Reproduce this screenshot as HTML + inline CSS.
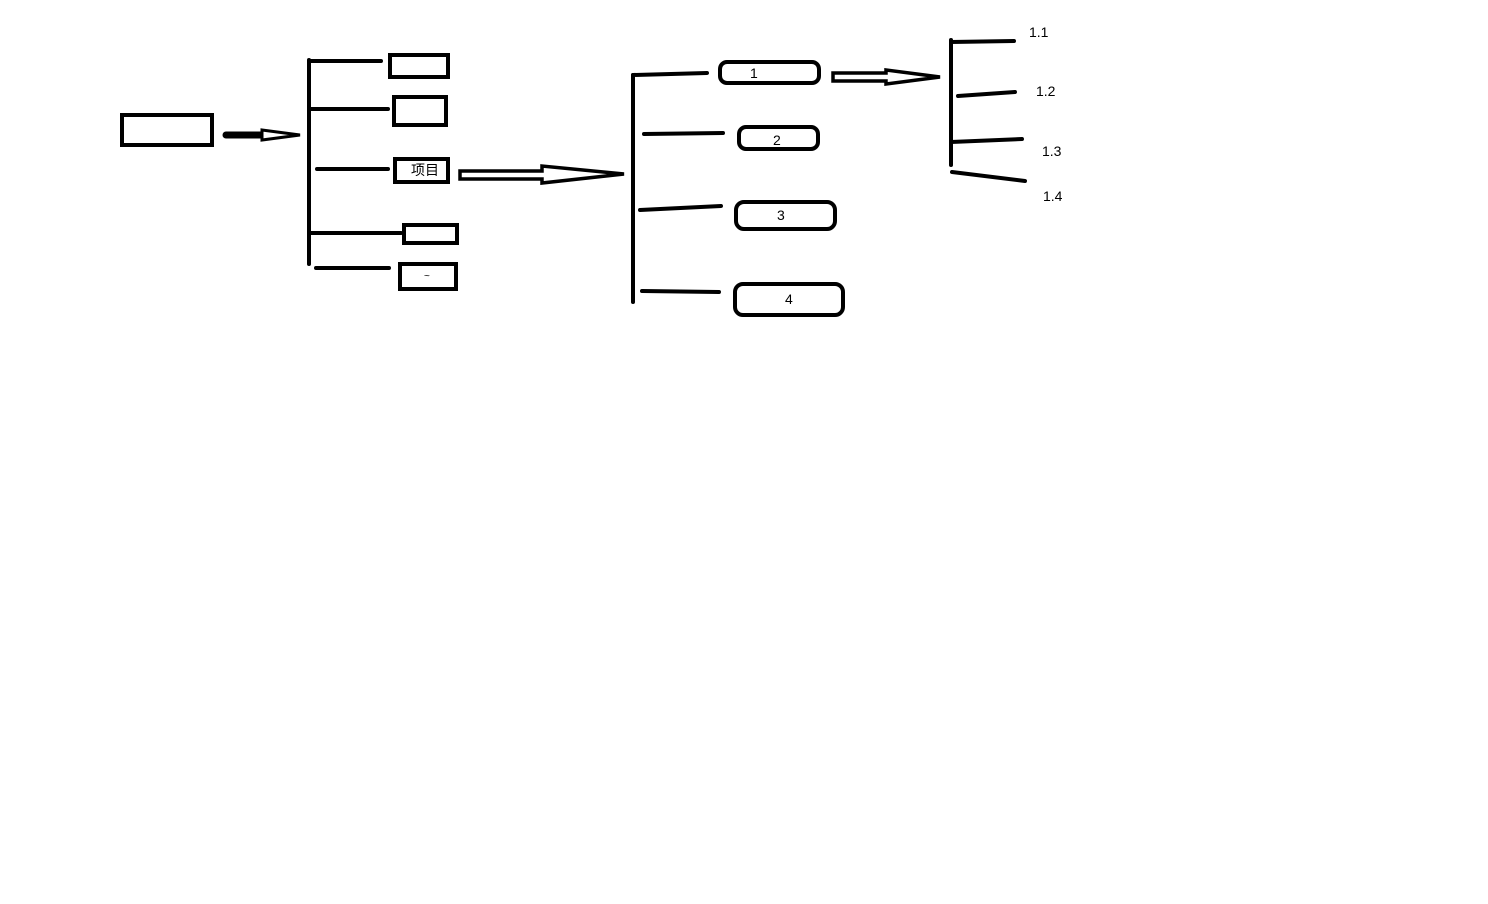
<!DOCTYPE html>
<html><head><meta charset="utf-8"><style>
html,body{margin:0;padding:0;background:#fff;width:1488px;height:904px;overflow:hidden}
svg text{font-family:"Liberation Sans","Noto Sans CJK SC",sans-serif;fill:#000}
</style></head><body>
<svg width="1488" height="904" viewBox="0 0 1488 904" xmlns="http://www.w3.org/2000/svg">
<g fill="none" stroke="#000" stroke-linecap="round" stroke-width="4">
<!-- left box -->
<rect x="122" y="115" width="90" height="30"/>
<!-- arrow 1 -->
<line x1="226" y1="135" x2="262" y2="135" stroke-width="7"/>
<path d="M262 130 L300 135 L262 140 Z" stroke-width="3" fill="#fff"/>
<!-- tree 1 -->
<line x1="309" y1="60" x2="309" y2="264"/>
<line x1="309" y1="61" x2="381" y2="61"/>
<line x1="311" y1="109" x2="388" y2="109"/>
<line x1="317" y1="169" x2="388" y2="169"/>
<line x1="311" y1="233" x2="401" y2="233"/>
<line x1="316" y1="268" x2="389" y2="268"/>
<rect x="390" y="55" width="58" height="22"/>
<rect x="394" y="97" width="52" height="28"/>
<rect x="395" y="159" width="53" height="23"/>
<rect x="404" y="225" width="53" height="18"/>
<rect x="400" y="264" width="56" height="25"/>
<!-- arrow 2 -->
<path d="M460 171 L542 171 L542 166 L624 174 L542 183 L542 179 L460 179 Z" stroke-width="3.5" fill="#fff"/>
<!-- tree 2 -->
<line x1="633" y1="75" x2="633" y2="190"/>
<line x1="633" y1="190" x2="633" y2="302"/>
<line x1="633" y1="75" x2="707" y2="73"/>
<line x1="644" y1="134" x2="723" y2="133"/>
<line x1="640" y1="210" x2="721" y2="206"/>
<line x1="642" y1="291" x2="719" y2="292"/>
<rect x="720" y="62" width="99" height="21" rx="7"/>
<rect x="739" y="127" width="79" height="22" rx="7"/>
<rect x="736" y="202" width="99" height="27" rx="8"/>
<rect x="735" y="284" width="108" height="31" rx="8"/>
<!-- arrow 3 -->
<path d="M833 73 L886 73 L886 70 L940 77 L886 84 L886 81 L833 81 Z" stroke-width="3.5" fill="#fff"/>
<!-- tree 3 -->
<line x1="951" y1="40" x2="951" y2="165"/>
<line x1="951" y1="42" x2="1014" y2="41"/>
<line x1="958" y1="96" x2="1015" y2="92"/>
<line x1="951" y1="142" x2="1022" y2="139"/>
<line x1="952" y1="172" x2="1025" y2="181"/>
</g>
<g font-size="14">
<text x="411" y="175" font-size="14">项目</text>
<text x="424" y="279" font-size="10">~</text>
<text x="750" y="78">1</text>
<text x="773" y="145">2</text>
<text x="777" y="220">3</text>
<text x="785" y="304">4</text>
<text x="1029" y="37">1.1</text>
<text x="1036" y="96">1.2</text>
<text x="1042" y="156">1.3</text>
<text x="1043" y="201">1.4</text>
</g>
</svg>
</body></html>
